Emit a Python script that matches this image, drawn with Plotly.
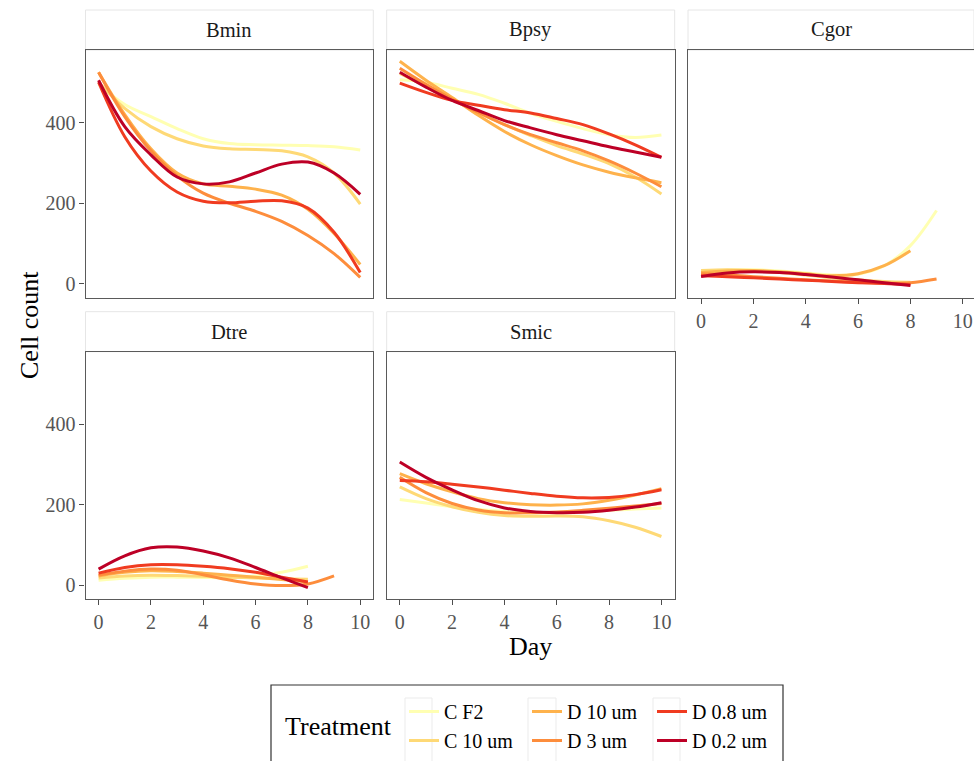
import plotly.graph_objects as go

W, H = 974, 761

# ---------------- data ----------------
treatments = ["C F2", "C 10 um", "D 10 um", "D 3 um", "D 0.8 um", "D 0.2 um"]
colors = ["#ffffb2", "#fed976", "#feb24c", "#fd8d3c", "#f03b20", "#bd0026"]
facets = ["Bmin", "Bpsy", "Cgor", "Dtre", "Smic"]

days_0_10 = [0, 1, 2, 3, 4, 5, 6, 7, 8, 9, 10]
days_0_9 = [0, 1, 2, 3, 4, 5, 6, 7, 8, 9]
days_0_8 = [0, 1, 2, 3, 4, 5, 6, 7, 8]

x_tick_vals = [0, 2, 4, 6, 8, 10]
y_tick_vals = [0, 200, 400]

# Bmin
bmin_c_f2 = [495, 445, 415, 385, 360, 348, 345, 344, 343, 340, 332]
bmin_c_10 = [500, 435, 390, 360, 342, 335, 333, 330, 315, 275, 198]
bmin_d_10 = [525, 420, 335, 275, 248, 242, 235, 220, 185, 125, 48]
bmin_d_3 = [525, 415, 330, 268, 225, 200, 180, 155, 120, 75, 16]
bmin_d_08 = [500, 365, 280, 228, 205, 201, 205, 206, 188, 128, 28]
bmin_d_02 = [505, 390, 320, 265, 248, 253, 275, 297, 302, 275, 222]

# Bpsy
bpsy_c_f2 = [506, 500, 485, 470, 448, 423, 403, 385, 370, 363, 369]
bpsy_c_10 = [522, 490, 458, 425, 395, 368, 343, 322, 298, 265, 223]
bpsy_d_10 = [552, 505, 462, 418, 378, 345, 318, 295, 277, 263, 251]
bpsy_d_3 = [535, 495, 458, 425, 395, 370, 350, 330, 305, 275, 241]
bpsy_d_08 = [498, 475, 455, 443, 432, 424, 410, 395, 372, 345, 314]
bpsy_d_02 = [525, 488, 455, 430, 405, 387, 370, 355, 340, 327, 314]

# Cgor
cgor_c_f2 = [31, 34, 35, 32, 27, 22, 24, 45, 95, 182]
cgor_c_10 = [33, 35, 33, 28, 22, 15, 10, 6, 4]
cgor_d_10 = [28, 32, 33, 30, 25, 20, 25, 45, 82]
cgor_d_3 = [25, 22, 18, 14, 10, 7, 4, 2, 3, 12]
cgor_d_08 = [20, 18, 15, 12, 9, 6, 3, 1, -2]
cgor_d_02 = [18, 27, 30, 28, 23, 17, 10, 3, -4]

# Dtre
dtre_c_f2 = [12, 17, 20, 20, 19, 19, 23, 32, 47]
dtre_c_10 = [18, 23, 25, 24, 22, 20, 18, 16, 15]
dtre_d_10 = [23, 32, 36, 34, 30, 25, 20, 14, 8]
dtre_d_3 = [25, 35, 40, 37, 26, 13, 3, -1, 3, 23]
dtre_d_08 = [30, 44, 51, 51, 47, 41, 32, 20, 8]
dtre_d_02 = [40, 73, 93, 95, 85, 68, 44, 18, -6]

# Smic
smic_c_f2 = [213, 204, 195, 188, 183, 180, 180, 182, 186, 189, 192]
smic_c_10 = [244, 215, 195, 181, 173, 171, 172, 170, 160, 144, 121]
smic_d_10 = [277, 252, 232, 215, 205, 200, 199, 202, 211, 224, 240]
smic_d_3 = [268, 230, 203, 187, 180, 180, 182, 186, 191, 197, 203]
smic_d_08 = [260, 257, 251, 244, 236, 228, 221, 217, 218, 225, 237]
smic_d_02 = [306, 268, 237, 210, 192, 183, 180, 181, 186, 194, 205]

series = {
    "Bmin": [(days_0_10, bmin_c_f2), (days_0_10, bmin_c_10), (days_0_10, bmin_d_10),
             (days_0_10, bmin_d_3), (days_0_10, bmin_d_08), (days_0_10, bmin_d_02)],
    "Bpsy": [(days_0_10, bpsy_c_f2), (days_0_10, bpsy_c_10), (days_0_10, bpsy_d_10),
             (days_0_10, bpsy_d_3), (days_0_10, bpsy_d_08), (days_0_10, bpsy_d_02)],
    "Cgor": [(days_0_9, cgor_c_f2), (days_0_8, cgor_c_10), (days_0_8, cgor_d_10),
             (days_0_9, cgor_d_3), (days_0_8, cgor_d_08), (days_0_8, cgor_d_02)],
    "Dtre": [(days_0_8, dtre_c_f2), (days_0_8, dtre_c_10), (days_0_8, dtre_d_10),
             (days_0_9, dtre_d_3), (days_0_8, dtre_d_08), (days_0_8, dtre_d_02)],
    "Smic": [(days_0_10, smic_c_f2), (days_0_10, smic_c_10), (days_0_10, smic_d_10),
             (days_0_10, smic_d_3), (days_0_10, smic_d_08), (days_0_10, smic_d_02)],
}

# ---------------- layout geometry (pixels) ----------------
FONT = "Liberation Serif"
col_px = [(85.5, 373.3), (386.7, 674.7), (688.0, 974.0)]
row_px = [(50.0, 298.0), (351.7, 599.3)]
strip_h = 40.0
facet_pos = {"Bmin": (0, 0), "Bpsy": (0, 1), "Cgor": (0, 2), "Dtre": (1, 0), "Smic": (1, 1)}
px_per_day = (373.3 - 85.5) / 11.0
y_range = [-35, 580]

def fx(px):
    return px / W

def fy(py):
    return 1 - py / H

legend_of = ["legend", "legend", "legend2", "legend2", "legend3", "legend3"]

fig = go.Figure()
layout_axes = {}
shapes = []
annotations = []

for i, facet in enumerate(facets):
    r, c = facet_pos[facet]
    n = "" if i == 0 else str(i + 1)
    xa, ya = "x" + n, "y" + n
    for t, (name, col) in enumerate(zip(treatments, colors)):
        xs, ys = series[facet][t]
        fig.add_trace(go.Scatter(
            x=xs, y=ys, mode="lines", name=name,
            line=dict(color=col, width=3, shape="spline", smoothing=1.0),
            xaxis=xa, yaxis=ya, legendgroup=name, showlegend=(i == 0),
            legend=legend_of[t], hoverinfo="skip",
        ))
    x0, x1 = col_px[c]
    y0, y1 = row_px[r]
    xr_hi = -0.5 + (x1 - x0) / px_per_day
    show_x = facet in ("Cgor", "Dtre", "Smic")
    show_y = c == 0
    layout_axes["xaxis" + n] = dict(
        domain=[fx(x0), fx(x1)], anchor=ya, range=[-0.5, xr_hi],
        showgrid=False, zeroline=False, showline=True, mirror=True,
        linecolor="#5a5a5a", linewidth=1.1,
        tickvals=x_tick_vals, ticks="outside" if show_x else "",
        ticklen=5, tickwidth=1.3, tickcolor="#4d4d4d",
        showticklabels=show_x,
        tickfont=dict(family=FONT, size=20, color="#555555"),
    )
    layout_axes["yaxis" + n] = dict(
        domain=[fy(y1), fy(y0)], anchor=xa, range=y_range,
        showgrid=False, zeroline=False, showline=True, mirror=True,
        linecolor="#5a5a5a", linewidth=1.1,
        tickvals=y_tick_vals, ticks="outside" if show_y else "",
        ticklen=5, tickwidth=1.3, tickcolor="#4d4d4d",
        showticklabels=show_y,
        tickfont=dict(family=FONT, size=20, color="#555555"),
    )
    # strip
    shapes.append(dict(type="rect", xref="paper", yref="paper",
                       x0=fx(x0), x1=fx(x1), y0=fy(y0), y1=fy(y0 - strip_h),
                       fillcolor="white", line=dict(color="#e6e6e6", width=1), layer="below"))
    annotations.append(dict(text=facet, xref="paper", yref="paper",
                            x=fx((x0 + x1) / 2), y=fy(y0 - strip_h / 2),
                            xanchor="center", yanchor="middle", showarrow=False,
                            font=dict(family=FONT, size=20.5, color="#1a1a1a")))

# axis titles
annotations.append(dict(text="Day", xref="paper", yref="paper", x=fx(530.5), y=fy(646),
                        xanchor="center", yanchor="middle", showarrow=False,
                        font=dict(family=FONT, size=26, color="black")))
annotations.append(dict(text="Cell count", xref="paper", yref="paper", x=fx(30), y=fy(325),
                        xanchor="center", yanchor="middle", showarrow=False, textangle=-90,
                        font=dict(family=FONT, size=26, color="black")))

# legend box + title
shapes.append(dict(type="rect", xref="paper", yref="paper",
                   x0=fx(271), x1=fx(783), y0=fy(775), y1=fy(685),
                   fillcolor="white", line=dict(color="#333333", width=1.2), layer="below"))
for kx0, kx1 in [(405, 432), (528, 556), (653, 680)]:
    shapes.append(dict(type="rect", xref="paper", yref="paper",
                       x0=fx(kx0), x1=fx(kx1), y0=fy(775), y1=fy(698),
                       fillcolor="white", line=dict(color="#ebebeb", width=1), layer="below"))
annotations.append(dict(text="Treatment", xref="paper", yref="paper", x=fx(283), y=fy(726.5),
                        xanchor="left", yanchor="middle", showarrow=False,
                        font=dict(family=FONT, size=26, color="black")))

legend_common = dict(xanchor="left", yanchor="top", bgcolor="rgba(0,0,0,0)",
                     borderwidth=0, itemwidth=30, tracegroupgap=0,
                     font=dict(family=FONT, size=20, color="black"),
                     itemclick=False, itemdoubleclick=False)

fig.update_layout(
    width=W, height=H,
    margin=dict(l=0, r=0, t=0, b=0),
    paper_bgcolor="white", plot_bgcolor="white",
    font=dict(family=FONT),
    shapes=shapes, annotations=annotations,
    legend=dict(x=fx(404), y=fy(692), **legend_common),
    legend2=dict(x=fx(527), y=fy(692), **legend_common),
    legend3=dict(x=fx(652), y=fy(692), **legend_common),
    **layout_axes,
)

fig.write_html("out.html")
